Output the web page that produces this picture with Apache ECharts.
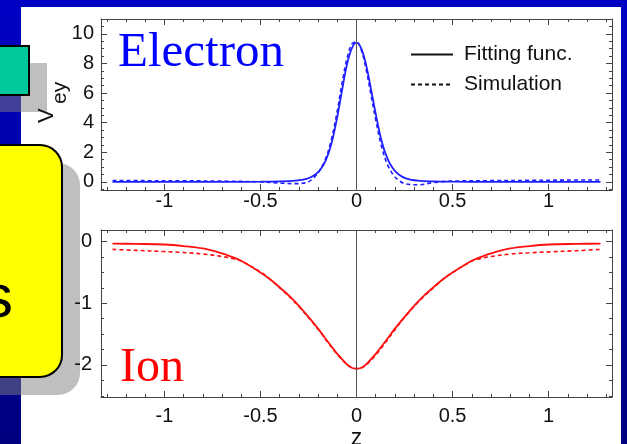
<!DOCTYPE html>
<html>
<head>
<meta charset="utf-8">
<script src="https://cdn.jsdelivr.net/npm/echarts@6/dist/echarts.min.js"></script>
<style>html,body{margin:0;padding:0;background:#fff}#c{width:627px;height:444px}</style>
</head>
<body>
<div id="c"></div>
<script>
// ---- Electron panel data ----
const zE = [-1.27,-1.1,-0.9,-0.7,-0.5,-0.4,-0.32,-0.26,-0.22,-0.19,-0.16,-0.13,-0.1,-0.075,-0.05,-0.025,0,0.025,0.05,0.075,0.1,0.13,0.16,0.19,0.22,0.26,0.32,0.4,0.5,0.7,0.9,1.1,1.27];
const eFit = [0,0,0,0,0.01,0.03,0.08,0.2,0.45,0.8,1.45,2.6,4.4,6.2,7.9,9.0,9.4,9.0,7.9,6.3,4.6,2.8,1.6,0.9,0.5,0.22,0.08,0.03,0.01,0,0,0,0];
const eSim = [0.09,0.08,0.07,0.05,0.0,-0.08,-0.12,-0.05,0.3,0.8,1.6,2.9,4.8,6.7,8.3,9.3,9.45,8.9,7.6,5.9,4.2,2.4,1.2,0.5,0.1,-0.15,-0.2,-0.05,0.05,0.08,0.1,0.12,0.13];

// ---- Ion panel data ----
const zI = [-1.27,-1.15,-1.0,-0.9,-0.8,-0.7,-0.65,-0.6,-0.5,-0.45,-0.4,-0.35,-0.3,-0.25,-0.2,-0.15,-0.1,-0.05,-0.025,0,0.025,0.05,0.1,0.15,0.2,0.25,0.3,0.35,0.4,0.45,0.5,0.6,0.65,0.7,0.8,0.9,1.0,1.15,1.27];
const iFit = [-0.03,-0.035,-0.045,-0.07,-0.11,-0.19,-0.245,-0.31,-0.50,-0.61,-0.74,-0.88,-1.04,-1.22,-1.41,-1.62,-1.82,-1.99,-2.045,-2.06,-2.045,-1.99,-1.82,-1.62,-1.41,-1.22,-1.04,-0.88,-0.74,-0.61,-0.50,-0.31,-0.245,-0.19,-0.11,-0.07,-0.045,-0.035,-0.03];
const iSim = [-0.125,-0.14,-0.16,-0.175,-0.2,-0.24,-0.27,-0.315,-0.49,-0.61,-0.75,-0.89,-1.05,-1.23,-1.42,-1.63,-1.83,-1.99,-2.04,-2.06,-2.05,-2.0,-1.84,-1.64,-1.43,-1.23,-1.05,-0.89,-0.75,-0.61,-0.50,-0.315,-0.27,-0.24,-0.2,-0.18,-0.165,-0.145,-0.125];

// ---- ticks ----
const xLabels = [-1,-0.5,0,0.5,1];
const xMinor = [-1.3,-1.2,-1.1,-1,-0.9,-0.8,-0.7,-0.6,-0.5,-0.4,-0.3,-0.2,-0.1,0,0.1,0.2,0.3,0.4,0.5,0.6,0.7,0.8,0.9,1,1.1,1.2,1.3];
const yTopLabels = [0,2,4,6,8,10];
const yTopMinor = [-0.5,0,0.5,1,1.5,2,2.5,3,3.5,4,4.5,5,5.5,6,6.5,7,7.5,8,8.5,9,9.5,10,10.5,11];
const yBotLabels = [-2,-1,0];
const yBotMinor = [-2.5,-2.25,-2,-1.75,-1.5,-1.25,-1,-0.75,-0.5,-0.25,0];

const legendNames = ['Fitting func.','Simulation'];

const AX = '#444';
const FONT = 'Liberation Sans';
function mkAxis(gridIndex, position, min, max, ticks, len, labels, margin, showLine, extra) {
  const a = {
    type: 'value', gridIndex, position, min, max,
    axisLine: {show: showLine, onZero: false, lineStyle: {color: AX, width: 1}},
    axisTick: {show: true, inside: true, length: len, customValues: ticks, lineStyle: {color: AX, width: 1}},
    axisLabel: labels ? {show: true, customValues: labels, margin: margin, fontSize: 20, color: '#111', fontFamily: FONT, formatter: v => String(v)} : {show: false},
    splitLine: {show: false}
  };
  return Object.assign(a, extra || {});
}
const XMIN = -1.33, XMAX = 1.33;
const T = {min: -0.55, max: 11}, B = {min: -2.52, max: 0.19};

const xAxes = [
  mkAxis(0,'bottom',XMIN,XMAX,xMinor,3,xLabels,1,true),
  mkAxis(0,'bottom',XMIN,XMAX,xLabels,6,null,0,false),
  mkAxis(0,'top',XMIN,XMAX,xMinor,3,null,0,true),
  mkAxis(0,'top',XMIN,XMAX,xLabels,6,null,0,false),
  mkAxis(1,'bottom',XMIN,XMAX,xMinor,3,xLabels,9,true,{name:'z',nameLocation:'middle',nameGap:21,nameTextStyle:{fontSize:23,color:'#111',fontFamily:FONT}}),
  mkAxis(1,'bottom',XMIN,XMAX,xLabels,6,null,0,false),
  mkAxis(1,'top',XMIN,XMAX,xMinor,3,null,0,true),
  mkAxis(1,'top',XMIN,XMAX,xLabels,6,null,0,false)
];
const yAxes = [
  mkAxis(0,'left',T.min,T.max,yTopMinor,3,yTopLabels,7,true),
  mkAxis(0,'left',T.min,T.max,yTopLabels,6,null,0,false),
  mkAxis(0,'right',T.min,T.max,yTopMinor,3,null,0,true),
  mkAxis(0,'right',T.min,T.max,yTopLabels,6,null,0,false),
  mkAxis(1,'left',B.min,B.max,yBotMinor,3,yBotLabels,9,true),
  mkAxis(1,'left',B.min,B.max,yBotLabels,6,null,0,false),
  mkAxis(1,'right',B.min,B.max,yBotMinor,3,null,0,true),
  mkAxis(1,'right',B.min,B.max,yBotLabels,6,null,0,false)
];

function pairs(xs, ys) { return xs.map((x, i) => [x, ys[i]]); }
const zeroLine = {silent: true, symbol: ['none','none'], label: {show: false}, lineStyle: {color: '#555', type: 'solid', width: 1}, data: [{xAxis: 0}]};

const series = [
  {name: 'eFit', type: 'line', xAxisIndex: 0, yAxisIndex: 0, data: pairs(zE, eFit), showSymbol: false, smooth: 0.35, lineStyle: {color: '#1f1fff', width: 1.8}, z: 3, markLine: zeroLine},
  {name: 'eSim', type: 'line', xAxisIndex: 0, yAxisIndex: 0, data: pairs(zE, eSim), showSymbol: false, smooth: 0.35, lineStyle: {color: '#1f1fff', width: 1.6, type: [4,3]}, z: 3},
  {name: 'iFit', type: 'line', xAxisIndex: 4, yAxisIndex: 4, data: pairs(zI, iFit), showSymbol: false, smooth: 0.35, lineStyle: {color: '#ff1010', width: 1.8}, z: 3, markLine: zeroLine},
  {name: 'iSim', type: 'line', xAxisIndex: 4, yAxisIndex: 4, data: pairs(zI, iSim), showSymbol: false, smooth: 0.35, lineStyle: {color: '#ff1010', width: 1.6, type: [4,3]}, z: 3},
  {name: legendNames[0], type: 'line', xAxisIndex: 0, yAxisIndex: 0, data: [], symbol: 'none', itemStyle: {color: '#111'}, lineStyle: {color: '#111', width: 1.3}},
  {name: legendNames[1], type: 'line', xAxisIndex: 0, yAxisIndex: 0, data: [], symbol: 'none', itemStyle: {color: '#111'}, lineStyle: {color: '#111', width: 1.3, type: [4,3]}}
];

const shadow = 'rgba(128,128,128,0.5)';
const graphics = [
  {type: 'rect', z: -20, shape: {x: 0, y: 0, width: 627, height: 444}, style: {fill: {type: 'linear', x: 0, y: 0, x2: 0, y2: 1, colorStops: [{offset: 0, color: '#0000c4'}, {offset: 1, color: '#000080'}]}}},
  {type: 'rect', z: -19, shape: {x: 21, y: 7, width: 600, height: 437}, style: {fill: '#ffffff'}},
  {type: 'rect', z: -18, shape: {x: -12, y: 63, width: 59, height: 49}, style: {fill: shadow}},
  {type: 'rect', z: -17, shape: {x: -30, y: 46, width: 59, height: 49}, style: {fill: '#00c89a', stroke: '#000', lineWidth: 2}},
  {type: 'rect', z: -18, shape: {x: -22, y: 163, width: 102, height: 232, r: 22}, style: {fill: shadow}},
  {type: 'rect', z: -17, shape: {x: -40, y: 145, width: 102, height: 232, r: 22}, style: {fill: '#ffff00', stroke: '#000', lineWidth: 2}},
  {type: 'text', z: -16, x: 13, y: 300, style: {text: 's', font: '62px "Liberation Sans"', fill: '#000', align: 'right', verticalAlign: 'middle'}},
  {type: 'text', z: 5, x: 118, y: 53, style: {text: 'Electron', font: '49px "Liberation Serif"', fill: '#0000ff', align: 'left', verticalAlign: 'middle'}},
  {type: 'text', z: 5, x: 120, y: 368, style: {text: 'Ion', font: '48px "Liberation Serif"', fill: '#ff0000', align: 'left', verticalAlign: 'middle'}},
  {type: 'text', z: 5, x: 47, y: 123, rotation: Math.PI / 2, style: {text: 'V', font: '22px "Liberation Sans"', fill: '#111', align: 'left', verticalAlign: 'middle'}},
  {type: 'text', z: 5, x: 60, y: 104, rotation: Math.PI / 2, style: {text: 'ey', font: '21px "Liberation Sans"', fill: '#111', align: 'left', verticalAlign: 'middle'}}
];

const chart = echarts.init(document.getElementById('c'), null, {renderer: 'canvas'});
chart.setOption({
  animation: false,
  backgroundColor: '#ffffff',
  grid: [
    {left: 101, right: 15, top: 19, height: 171, outerBoundsMode: 'none', containLabel: false},
    {left: 101, right: 15, top: 230, height: 167, outerBoundsMode: 'none', containLabel: false}
  ],
  xAxis: xAxes,
  yAxis: yAxes,
  legend: {
    data: legendNames, left: 410, top: 44, orient: 'vertical', padding: 0,
    itemWidth: 42, itemHeight: 12, itemGap: 9, selectedMode: false,
    itemStyle: {opacity: 0},
    textStyle: {fontSize: 21, color: '#111', fontFamily: FONT, padding: [0, 0, 0, 6]}
  },
  graphic: graphics,
  series: series
});
</script>
</body>
</html>
